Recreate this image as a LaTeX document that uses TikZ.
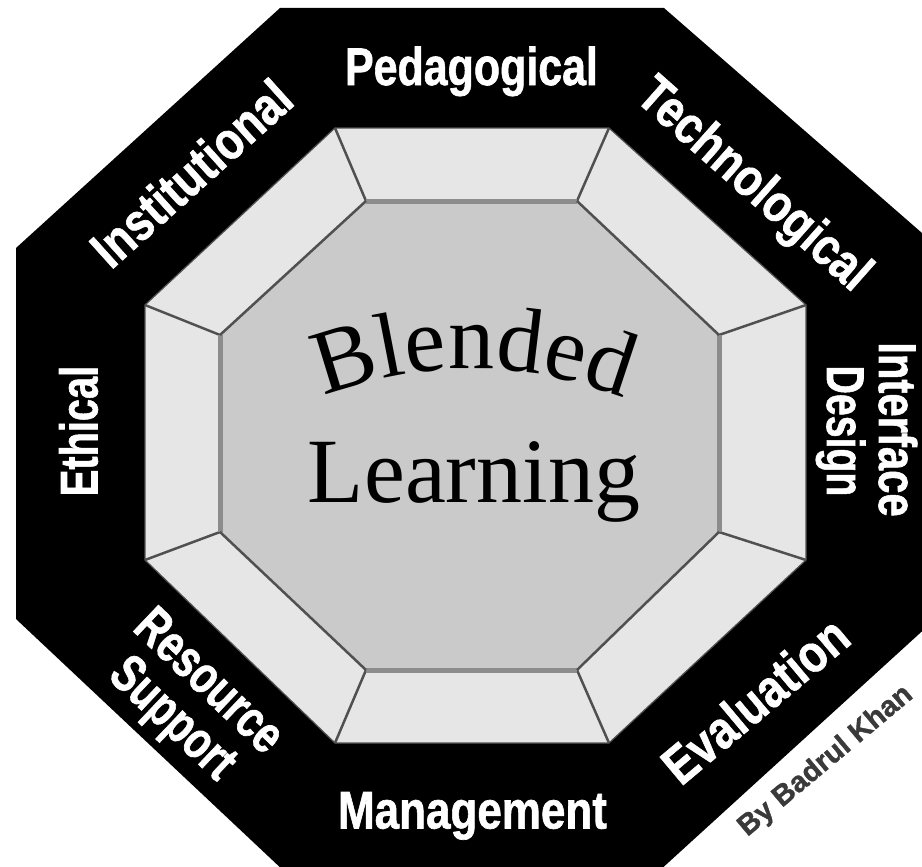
\documentclass[tikz,border=0pt]{standalone}
\usepackage{fontspec}
\usepackage{graphicx}
\usetikzlibrary{decorations.text}
\newfontfamily\labfont[BoldFeatures={FakeBold=1.3}]{Liberation Sans}
\newfontfamily\blfont{Liberation Serif}
\definecolor{ringgray}{HTML}{E6E6E6}
\definecolor{coregray}{HTML}{CACACA}
\definecolor{edgegray}{HTML}{8C8C8C}
\definecolor{spokegray}{HTML}{505050}
\definecolor{signgray}{HTML}{3A3A3A}
\tikzset{
  lab/.style={text=white, font=\labfont\bfseries\fontsize{53}{54}\selectfont, inner sep=0pt, text height=38pt, text depth=0pt},
  sign/.style={text=signgray, font=\labfont\bfseries\fontsize{29}{30}\selectfont, inner sep=0pt, text height=21pt, text depth=0pt},
  spoke/.style={draw=spokegray, line width=2.5pt},
  straightedge/.style={draw=edgegray, line width=5pt},
  ringline/.style={draw=spokegray, line width=1.2pt},
}
\newcommand{\sqz}[2]{\scalebox{#1}[1]{#2}}
\begin{document}
\begin{tikzpicture}[x=1pt,y=-1pt]
\useasboundingbox (0,0) rectangle (922,867);
\fill[white] (0,0) rectangle (922,867);
% outer octagon
\coordinate (O1) at (280,8);
\coordinate (O2) at (664,8);
\coordinate (O3) at (930,240);
\coordinate (O4) at (930,624);
\coordinate (O5) at (658,872);
\coordinate (O6) at (285,872);
\coordinate (O7) at (16,619);
\coordinate (O8) at (16,248);
% ring octagon
\coordinate (R1) at (335,128);
\coordinate (R2) at (609,128);
\coordinate (R3) at (806,305);
\coordinate (R4) at (806,560);
\coordinate (R5) at (609,743);
\coordinate (R6) at (335,743);
\coordinate (R7) at (145,560);
\coordinate (R8) at (145,305);
% inner octagon
\coordinate (I1) at (366,201);
\coordinate (I2) at (577,201);
\coordinate (I3) at (719,335);
\coordinate (I4) at (719,532);
\coordinate (I5) at (577,670);
\coordinate (I6) at (366,670);
\coordinate (I7) at (220,532);
\coordinate (I8) at (220,335);
\begin{scope}
\clip (0,0) rectangle (922,867);
\fill[black] (O1)--(O2)--(O3)--(O4)--(O5)--(O6)--(O7)--(O8)--cycle;
\end{scope}
\fill[ringgray] (R1)--(R2)--(R3)--(R4)--(R5)--(R6)--(R7)--(R8)--cycle;
\draw[ringline] (R1)--(R2)--(R3)--(R4)--(R5)--(R6)--(R7)--(R8)--cycle;
\fill[coregray] (I1)--(I2)--(I3)--(I4)--(I5)--(I6)--(I7)--(I8)--cycle;
% spokes
\draw[spoke] (I1)--(R1);
\draw[spoke] (I2)--(R2);
\draw[spoke] (I3)--(R3);
\draw[spoke] (I4)--(R4);
\draw[spoke] (I5)--(R5);
\draw[spoke] (I6)--(R6);
\draw[spoke] (I7)--(R7);
\draw[spoke] (I8)--(R8);
% inner edges
\draw[straightedge] (I1)--(I2);
\draw[straightedge] (I3)--(I4);
\draw[straightedge] (I5)--(I6);
\draw[straightedge] (I7)--(I8);
\draw[spoke] (I2)--(I3);
\draw[spoke] (I4)--(I5);
\draw[spoke] (I6)--(I7);
\draw[spoke] (I8)--(I1);
% center text
\path[decorate, decoration={text along path, text={|\blfont\fontsize{92}{92}\selectfont|Blended}, text align=center}]
  (320,398) .. controls (421,358) and (524,359) .. (628,400);
\node[font=\blfont\fontsize{92}{92}\selectfont, anchor=base, inner sep=0pt] (learn) at (474,502) {Learning};
% labels
\node[lab] (ped) at (471.5,66) {\sqz{0.81}{Pedagogical}};
\node[lab] (man) at (472.5,809.5) {\sqz{0.83}{Management}};
\node[lab, rotate=90] (eth) at (78.5,431) {\sqz{0.75}{Ethical}};
\node[lab, rotate=-90] (int) at (898,429.5) {\sqz{0.79}{Interface}};
\node[lab, rotate=-90] (des) at (846,431) {\sqz{0.74}{Design}};
\node[lab, rotate=-41.5] (tec) at (756,182) {\sqz{0.83}{Technological}};
\node[lab, rotate=42] (ins) at (191,173) {\sqz{0.83}{Institutional}};
\node[lab, rotate=40] (eva) at (755,700) {\sqz{0.84}{Evaluation}};
\node[lab, rotate=-43.5] (res) at (211,679) {\sqz{0.76}{Resource}};
\node[lab, rotate=-43.5] (sup) at (175,716) {\sqz{0.75}{Support}};
\node[sign, rotate=40] (by) at (824,759) {By Badrul Khan};
\end{tikzpicture}
\end{document}
